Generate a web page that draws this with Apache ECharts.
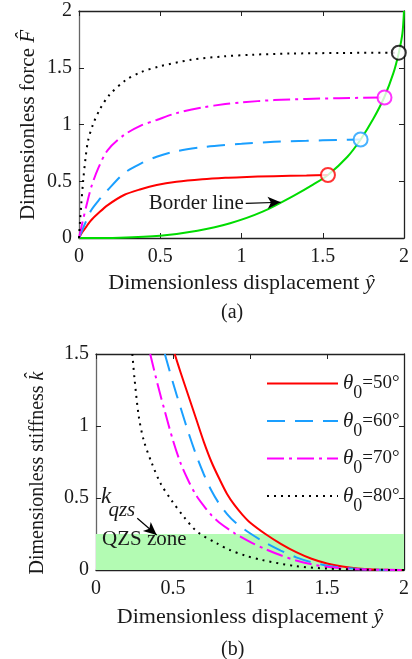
<!DOCTYPE html>
<html>
<head>
<meta charset="utf-8">
<script src="https://cdn.jsdelivr.net/npm/echarts@6/dist/echarts.min.js"></script>
<style>
  html, body { margin: 0; padding: 0; background: #fff; }
  #chart { width: 412px; height: 659px; }
</style>
</head>
<body>
<div id="chart"></div>
<script>
// ---- (a) force vs displacement ----
const dispA50 = [0, 0.02, 0.05, 0.076, 0.12, 0.177, 0.277, 0.38, 0.478, 0.6, 0.759, 0.9, 1.0, 1.2, 1.4, 1.532];
const forceA50 = [0, 0.05, 0.11, 0.159, 0.22, 0.29, 0.379, 0.43, 0.467, 0.495, 0.517, 0.53, 0.536, 0.545, 0.55, 0.555];
const dispA60 = [0, 0.02, 0.05, 0.076, 0.12, 0.177, 0.277, 0.38, 0.478, 0.6, 0.759, 0.9, 1.0, 1.2, 1.4, 1.6, 1.733];
const forceA60 = [0, 0.07, 0.17, 0.247, 0.33, 0.423, 0.57, 0.655, 0.716, 0.765, 0.8, 0.82, 0.83, 0.848, 0.857, 0.864, 0.868];
const dispA70 = [0, 0.02, 0.05, 0.076, 0.12, 0.177, 0.277, 0.38, 0.478, 0.6, 0.759, 0.9, 1.0, 1.2, 1.4, 1.6, 1.88];
const forceA70 = [0, 0.13, 0.31, 0.452, 0.62, 0.775, 0.907, 0.99, 1.04, 1.1, 1.15, 1.18, 1.195, 1.215, 1.225, 1.232, 1.238];
const dispA80 = [0, 0.006, 0.013, 0.026, 0.04, 0.056, 0.086, 0.127, 0.187, 0.287, 0.38, 0.49, 0.69, 0.89, 1.07, 1.3, 1.6, 1.968];
const forceA80 = [0, 0.14, 0.28, 0.51, 0.7, 0.86, 1.0, 1.13, 1.26, 1.39, 1.46, 1.51, 1.57, 1.6, 1.615, 1.625, 1.63, 1.633];
const borderX = [0, 0.25, 0.5, 0.729, 0.93, 1.13, 1.331, 1.44, 1.532, 1.652, 1.733, 1.813, 1.878, 1.934, 1.968, 1.99, 2.0];
const borderF = [0, 0.003, 0.02, 0.064, 0.13, 0.232, 0.38, 0.47, 0.555, 0.716, 0.868, 1.055, 1.238, 1.45, 1.633, 1.8, 2.0];

// ---- (b) stiffness vs displacement ----
const dispB50 = [0.511, 0.55, 0.6, 0.65, 0.7, 0.75, 0.8, 0.85, 0.9, 0.95, 1.0, 1.1, 1.2, 1.3, 1.4, 1.5, 1.6, 1.7, 1.8, 1.9, 2.0];
const stiffB50 = [1.5, 1.37, 1.21, 1.05, 0.89, 0.75, 0.635, 0.53, 0.45, 0.385, 0.33, 0.25, 0.182, 0.124, 0.078, 0.045, 0.024, 0.011, 0.004, 0.001, 0];
const dispB60 = [0.447, 0.5, 0.55, 0.6, 0.65, 0.7, 0.75, 0.8, 0.85, 0.9, 1.0, 1.1, 1.2, 1.3, 1.4, 1.5, 1.6, 1.7, 1.8, 2.0];
const stiffB60 = [1.5, 1.3, 1.125, 0.955, 0.8, 0.665, 0.55, 0.46, 0.39, 0.335, 0.255, 0.19, 0.135, 0.088, 0.054, 0.03, 0.015, 0.007, 0.002, 0];
const dispB70 = [0.352, 0.4, 0.45, 0.5, 0.55, 0.6, 0.65, 0.7, 0.75, 0.8, 0.9, 1.0, 1.1, 1.2, 1.3, 1.4, 1.5, 1.6, 1.7, 1.8, 2.0];
const stiffB70 = [1.5, 1.29, 1.09, 0.9, 0.74, 0.62, 0.52, 0.445, 0.38, 0.33, 0.255, 0.195, 0.145, 0.102, 0.066, 0.04, 0.022, 0.011, 0.005, 0.002, 0];
const dispB80 = [0.236, 0.25, 0.278, 0.31, 0.363, 0.42, 0.489, 0.57, 0.658, 0.785, 0.869, 0.97, 1.08, 1.29, 1.5, 1.7, 2.0];
const stiffB80 = [1.5, 1.33, 1.065, 0.9, 0.74, 0.6, 0.486, 0.37, 0.265, 0.185, 0.139, 0.1, 0.069, 0.028, 0.01, 0.003, 0];
const qzsZone = [0, 0.25];

const legendNames = ['θ0=50°', 'θ0=60°', 'θ0=70°', 'θ0=80°'];
const xTicksA = [0, 2, 0.5];   // min, max, interval
const yTicksA = [0, 2, 0.5];
const xTicksB = [0, 2, 0.5];
const yTicksB = [0, 1.5, 0.5];

const FONT = "'Liberation Serif', 'Times New Roman', serif";
const TXT = '#1a1a1a';

function zip(xs, ys) { return xs.map((x, i) => [x, ys[i]]); }

function xAx(grid, ticks, pos, name, gap) {
  const main = pos === 'bottom';
  return {
    gridIndex: grid, type: 'value', position: pos,
    min: ticks[0], max: ticks[1], interval: ticks[2],
    axisLine: { show: true, onZero: false, lineStyle: { color: '#222', width: 1.3 } },
    axisTick: { show: true, inside: true, length: 5, lineStyle: { color: '#222' } },
    axisLabel: { show: main, margin: 9, fontFamily: FONT, fontSize: 20, color: TXT },
    splitLine: { show: false },
    name: main ? name : '', nameLocation: 'middle', nameGap: gap || 0,
    nameTextStyle: { fontFamily: FONT, fontSize: 22, color: TXT,
      rich: { i: { fontFamily: FONT, fontSize: 22, fontStyle: 'italic', color: TXT } } }
  };
}
function yAx(grid, ticks, pos) {
  const main = pos === 'left';
  return {
    gridIndex: grid, type: 'value', position: pos,
    min: ticks[0], max: ticks[1], interval: ticks[2],
    axisLine: { show: true, onZero: false, lineStyle: { color: main ? '#666' : '#222', width: 1.3 } },
    axisTick: { show: true, inside: true, length: 5, lineStyle: { color: '#222' } },
    axisLabel: { show: main, margin: 7, fontFamily: FONT, fontSize: 20, color: TXT },
    splitLine: { show: false }
  };
}

const styles = [
  { color: '#ff0000', type: 'solid' },
  { color: '#1a9fff', type: [18, 10] },
  { color: '#ff00ff', type: [17, 5, 3, 5] },
  { color: '#000000', type: [2, 5] }
];

function curve(name, xi, yi, xs, ys, st) {
  return {
    name: name, type: 'line', xAxisIndex: xi, yAxisIndex: yi,
    data: zip(xs, ys), symbol: 'none', smooth: 0.3,
    lineStyle: { color: st.color, type: st.type, width: 2 },
    itemStyle: { color: st.color }, z: 3
  };
}

const dispA = [dispA50, dispA60, dispA70, dispA80];
const forceA = [forceA50, forceA60, forceA70, forceA80];
const dispB = [dispB50, dispB60, dispB70, dispB80];
const stiffB = [stiffB50, stiffB60, stiffB70, stiffB80];

const series = [];
series.push({
  name: 'border', type: 'line', xAxisIndex: 0, yAxisIndex: 0,
  data: zip(borderX, borderF), symbol: 'none', smooth: 0.3,
  lineStyle: { color: '#00dc00', width: 2 }, z: 2,
  markLine: {
    silent: true, symbol: ['none', 'arrow'], symbolSize: [9, 13],
    lineStyle: { color: '#000', type: 'solid', width: 1.2 },
    label: { show: true, position: 'start', distance: 2, formatter: 'Border line',
      fontFamily: FONT, fontSize: 21, color: TXT },
    data: [[{ coord: [1.026, 0.305] }, { coord: [1.241, 0.315] }]]
  }
});
for (let i = 0; i < 4; i++) series.push(curve('a' + i, 0, 0, dispA[i], forceA[i], styles[i]));
series.push({
  name: 'ends', type: 'scatter', xAxisIndex: 0, yAxisIndex: 0, z: 5,
  symbol: 'emptyCircle', symbolSize: 14,
  data: dispA.map((xs, i) => ({
    value: [xs[xs.length - 1], forceA[i][forceA[i].length - 1]],
    itemStyle: { color: styles[i].color, borderColor: styles[i].color, borderWidth: 2 }
  }))
});
for (let i = 0; i < 4; i++) {
  const s = curve(legendNames[i], 2, 2, dispB[i], stiffB[i], styles[i]);
  if (i === 3) {
    s.markArea = {
      silent: true, z: 1,
      itemStyle: { color: '#b3fbb3' },
      label: { show: true, position: [6, -5], formatter: 'QZS zone',
        fontFamily: FONT, fontSize: 21, color: TXT },
      data: [[{ coord: [0, qzsZone[0]] }, { coord: [2, qzsZone[1]] }]]
    };
    s.markLine = {
      silent: true, symbol: ['none', 'arrow'], symbolSize: [9, 13],
      lineStyle: { color: '#000', type: 'solid', width: 1.2 },
      label: { show: false },
      data: [[{ coord: [0.268, 0.359] }, { coord: [0.394, 0.243] }]]
    };
    s.markPoint = {
      silent: true, symbol: 'circle', symbolSize: 0,
      label: { show: true, position: 'inside', fontFamily: FONT, fontStyle: 'italic', color: TXT },
      data: [
        { coord: [0.066, 0.507], label: { formatter: 'k', fontSize: 23 } },
        { coord: [0.168, 0.41], label: { formatter: 'qzs', fontSize: 21 } }
      ]
    };
  }
  series.push(s);
}

const richI = (size) => ({ i: { fontFamily: FONT, fontSize: size, fontStyle: 'italic', fill: TXT } });

const option = {
  animation: false,
  backgroundColor: '#fff',
  grid: [
    { left: 79, right: 1, top: 11, height: 227 },
    { left: 96, right: 1, top: 354, height: 216 }
  ],
  xAxis: [
    xAx(0, xTicksA, 'bottom', 'Dimensionless displacement {i|ŷ}', 34),
    xAx(0, xTicksA, 'top'),
    xAx(1, xTicksB, 'bottom', 'Dimensionless displacement {i|ŷ}', 36),
    xAx(1, xTicksB, 'top')
  ],
  yAxis: [
    yAx(0, yTicksA, 'left'),
    yAx(0, yTicksA, 'right'),
    yAx(1, yTicksB, 'left'),
    yAx(1, yTicksB, 'right')
  ],
  legend: {
    data: legendNames, orient: 'vertical', left: 266, top: 373, padding: 0,
    itemWidth: 71, itemHeight: 14, itemGap: 8, selectedMode: false,
    itemStyle: { opacity: 0 },
    textStyle: {
      fontFamily: FONT, fontSize: 20, color: TXT,
      rich: {
        t: { fontFamily: FONT, fontSize: 21, fontStyle: 'italic', color: TXT },
        s: { fontFamily: FONT, fontSize: 18, color: TXT, padding: [20, 0, 0, 0] },
        n: { fontFamily: FONT, fontSize: 19, color: TXT }
      }
    },
    formatter: name => '{t|θ}{s|0}{n|' + name.slice(2) + '}'
  },
  graphic: [
    { type: 'text', x: 28, y: 125, rotation: Math.PI / 2,
      style: { text: 'Dimensionless force {i|F\u0302}', font: '21px ' + FONT, fill: TXT,
        align: 'center', verticalAlign: 'middle', rich: richI(21) } },
    { type: 'text', x: 38, y: 473, rotation: Math.PI / 2,
      style: { text: 'Dimensionless stiffness {i|k\u0302}', font: '20px ' + FONT, fill: TXT,
        align: 'center', verticalAlign: 'middle', rich: richI(20) } },
    { type: 'text', left: 221, top: 303, style: { text: '(a)', font: '20px ' + FONT, fill: TXT } },
    { type: 'text', left: 221, top: 640, style: { text: '(b)', font: '20px ' + FONT, fill: TXT } }
  ],
  series: series
};

const chart = echarts.init(document.getElementById('chart'));
chart.setOption(option);
</script>
</body>
</html>
